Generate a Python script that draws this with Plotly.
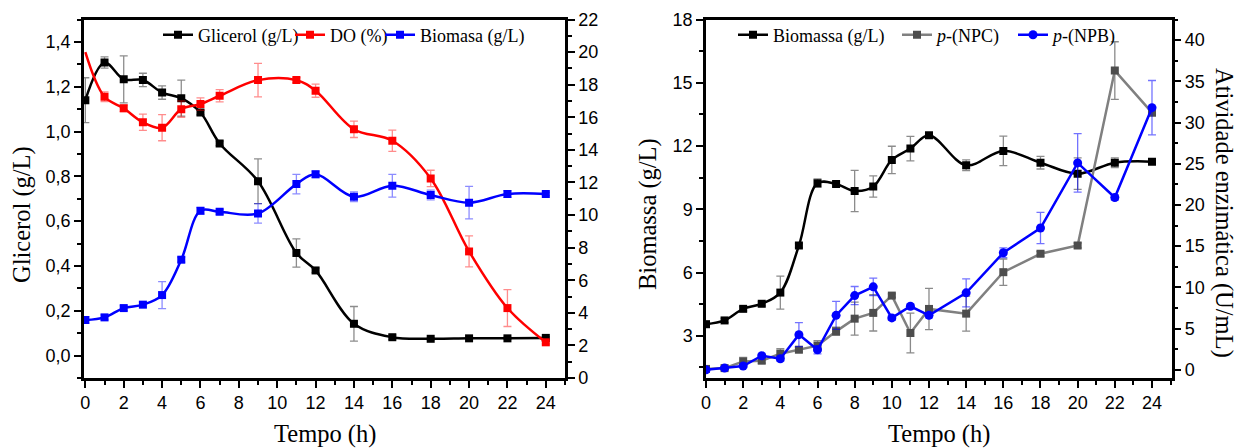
import plotly.graph_objects as go

# ---------------- Data: left panel ----------------
t_left = [0, 1, 2, 3, 4, 5, 6, 7, 9, 11, 12, 14, 16, 18, 20, 22, 24]
glicerol = [1.14, 1.308, 1.233, 1.23, 1.174, 1.149, 1.085, 0.947, 0.778, 0.458, 0.380,
            0.142, 0.082, 0.075, 0.077, 0.077, 0.079]
glicerol_err = [0.10, 0.025, 0.105, 0.03, 0.03, 0.08, 0.01, 0.01, 0.10, 0.063, 0.01,
                0.077, 0.01, 0.005, 0.005, 0.005, 0.005]
do_pct = [20.0, 17.26, 16.55, 15.69, 15.36, 16.5, 16.81, 17.32, 18.28, 18.28, 17.63,
          15.26, 14.56, 12.25, 7.77, 4.29, 2.19]
do_err = [0.0, 0.3, 0.2, 0.5, 0.8, 0.5, 0.38, 0.38, 1.03, 0.15, 0.4,
          0.5, 0.65, 0.5, 0.95, 1.13, 0.1]
biomasa = [3.56, 3.72, 4.29, 4.5, 5.09, 7.26, 10.26, 10.2, 10.1, 11.9, 12.5,
           11.12, 11.8, 11.23, 10.76, 11.29, 11.29]
biomasa_err = [0.2, 0.15, 0.15, 0.15, 0.83, 0.15, 0.2, 0.15, 0.6, 0.6, 0.2,
               0.3, 0.7, 0.3, 1.0, 0.2, 0.1]

# ---------------- Data: right panel ----------------
t_right = [0, 1, 2, 3, 4, 5, 6, 7, 8, 9, 10, 11, 12, 14, 16, 18, 20, 22, 24]
biomassa = [3.55, 3.73, 4.28, 4.52, 5.05, 7.28, 10.24, 10.2, 9.87, 10.08, 11.34, 11.88,
            12.51, 11.09, 11.77, 11.21, 10.69, 11.21, 11.26]
biomassa_err = [0.15, 0.1, 0.1, 0.1, 0.78, 0.1, 0.2, 0.1, 0.98, 0.5, 0.65, 0.58,
                0.1, 0.25, 0.7, 0.3, 0.75, 0.23, 0.1]
npc = [0.1, 0.2, 1.0, 1.1, 1.95, 2.43, 2.92, 4.66, 6.2, 6.9, 9.0, 4.46, 7.38,
       6.81, 11.84, 14.07, 15.08, 36.3, 31.2]
npc_err = [0.2, 0.2, 0.5, 0.3, 0.6, 0.3, 0.6, 0.5, 2.0, 2.2, 0.2, 2.4, 2.5,
           2.13, 1.6, 0.3, 0.3, 3.5, 0.3]
npb = [0.0, 0.2, 0.45, 1.7, 1.34, 4.26, 2.43, 6.6, 9.0, 10.06, 6.29, 7.7, 6.6,
       9.33, 14.2, 17.2, 25.1, 20.9, 31.8]
npb_err = [0.2, 0.2, 0.2, 0.2, 0.3, 1.46, 0.5, 1.7, 1.1, 1.07, 0.3, 0.3, 0.3,
           1.7, 0.6, 1.9, 3.55, 0.3, 3.3]

x_ticks = list(range(0, 25, 2))

SERIF = "Times New Roman, Liberation Serif, serif"
SANS = "Arial, Liberation Sans, sans-serif"
RED = "#ff0000"

fig = go.Figure()


def err(vals, color):
    return dict(type="data", array=vals, visible=True, color=color, thickness=1.3, width=4)


# left panel traces
fig.add_trace(go.Scatter(x=t_left, y=glicerol, name="Glicerol (g/L)", mode="lines+markers",
                         line=dict(color="black", width=2.5, shape="spline", smoothing=1.0),
                         marker=dict(symbol="square", size=8, color="black"),
                         error_y=err(glicerol_err, "rgba(0,0,0,0.45)"),
                         xaxis="x", yaxis="y", legend="legend"))
# DO: smooth curve through all points; the starting point at t=0 has no visible marker
fig.add_trace(go.Scatter(x=t_left, y=do_pct, mode="lines", showlegend=False,
                         line=dict(color=RED, width=2.5, shape="spline", smoothing=1.0),
                         xaxis="x", yaxis="y2", hoverinfo="skip"))
fig.add_trace(go.Scatter(x=t_left[1:], y=do_pct[1:], mode="markers", showlegend=False,
                         marker=dict(symbol="square", size=8, color=RED),
                         error_y=err(do_err[1:], "rgba(255,0,0,0.45)"),
                         xaxis="x", yaxis="y2"))
fig.add_trace(go.Scatter(x=[None], y=[None], name="DO (%)", mode="lines+markers",
                         line=dict(color=RED, width=2.5),
                         marker=dict(symbol="square", size=8, color=RED),
                         xaxis="x", yaxis="y2", legend="legend2"))
fig.add_trace(go.Scatter(x=t_left, y=biomasa, name="Biomasa (g/L)", mode="lines+markers",
                         line=dict(color="#0000ff", width=2.5, shape="spline", smoothing=1.0),
                         marker=dict(symbol="square", size=8, color="#0000ff"),
                         error_y=err(biomasa_err, "rgba(0,0,255,0.45)"),
                         xaxis="x", yaxis="y2", legend="legend3"))

# right panel traces
fig.add_trace(go.Scatter(x=t_right, y=biomassa, name="Biomassa (g/L)", mode="lines+markers",
                         line=dict(color="black", width=2.5, shape="spline", smoothing=1.0),
                         marker=dict(symbol="square", size=8, color="black"),
                         error_y=err(biomassa_err, "rgba(0,0,0,0.45)"),
                         xaxis="x2", yaxis="y3", legend="legend4"))
fig.add_trace(go.Scatter(x=t_right, y=npc, name="<i>p</i>-(NPC)", mode="lines+markers",
                         line=dict(color="#808080", width=2.5),
                         marker=dict(symbol="square", size=8, color="#4d4d4d"),
                         error_y=err(npc_err, "rgba(60,60,60,0.6)"),
                         xaxis="x2", yaxis="y4", legend="legend5"))
fig.add_trace(go.Scatter(x=t_right, y=npb, name="<i>p</i>-(NPB)", mode="lines+markers",
                         line=dict(color="#0000ff", width=2.5),
                         marker=dict(symbol="circle", size=9, color="#0000ff"),
                         error_y=err(npb_err, "rgba(0,0,255,0.55)"),
                         xaxis="x2", yaxis="y4", legend="legend6"))

W, H = 1243, 448
top = 1 - 19.5 / H
bot = 1 - 378 / H

tickfont = dict(family=SANS, size=18, color="black")
common = dict(showline=True, linecolor="black", linewidth=2.5, ticks="outside",
              ticklen=7, tickwidth=2, tickcolor="black", showgrid=False, zeroline=False,
              tickfont=tickfont, automargin=False)

xcommon = dict(common, tickvals=x_ticks, range=[-0.07, 25], mirror=True,
               minor=dict(dtick=1, tick0=0, ticks="outside", ticklen=4, tickwidth=2, tickcolor="black"))


def leg(xpix):
    return dict(orientation="h", x=xpix / W, y=1 - 35 / H, xanchor="left", yanchor="middle",
                bgcolor="rgba(0,0,0,0)", font=dict(family=SERIF, size=18, color="black"),
                itemwidth=30, tracegroupgap=0)


fig.update_layout(
    width=W, height=H, margin=dict(l=0, r=0, t=0, b=0, pad=0, autoexpand=False),
    paper_bgcolor="white", plot_bgcolor="white",
    separators=",.",
    xaxis=dict(xcommon, domain=[84 / W, 565 / W], anchor="y"),
    yaxis=dict(common, domain=[bot, top], range=[-0.1, 1.5], dtick=0.2, tick0=0,
               tickformat=".1f", anchor="x",
               minor=dict(dtick=0.1, tick0=0, ticks="outside", ticklen=4, tickwidth=2, tickcolor="black")),
    yaxis2=dict(common, range=[0, 22], dtick=2, tick0=0, overlaying="y", side="right", anchor="x",
                minor=dict(dtick=1, tick0=0, ticks="outside", ticklen=4, tickwidth=2, tickcolor="black")),
    xaxis2=dict(xcommon, domain=[706 / W, 1171.5 / W], anchor="y3", range=[0, 25.05]),
    yaxis3=dict(common, domain=[bot, top], range=[1, 18], dtick=3, tick0=0, anchor="x2",
                minor=dict(dtick=1.5, tick0=0, ticks="outside", ticklen=4, tickwidth=2, tickcolor="black")),
    yaxis4=dict(common, range=[-1, 42.5], dtick=5, tick0=0, overlaying="y3", side="right", anchor="x2",
                minor=dict(dtick=2.5, tick0=0, ticks="outside", ticklen=4, tickwidth=2, tickcolor="black")),
    legend=leg(158), legend2=leg(290), legend3=leg(380),
    legend4=leg(733), legend5=leg(897), legend6=leg(1013),
    showlegend=True,
)

title_font = dict(family=SERIF, size=24.5, color="black")
annos = [
    dict(text="Glicerol (g/L)", x=22 / W, y=1 - 215 / H, textangle=-90),
    dict(text="Tempo (h)", x=324.5 / W, y=1 - 434 / H, textangle=0),
    dict(text="Biomassa (g/L)", x=648 / W, y=1 - 214 / H, textangle=-90),
    dict(text="Tempo (h)", x=939 / W, y=1 - 434 / H, textangle=0),
    dict(text="Atividade enzimática (U/mL)", x=1224 / W, y=1 - 213 / H, textangle=90),
]
for a in annos:
    fig.add_annotation(xref="paper", yref="paper", xanchor="center", yanchor="middle",
                       showarrow=False, font=title_font, **a)

fig.write_html("out.html")
